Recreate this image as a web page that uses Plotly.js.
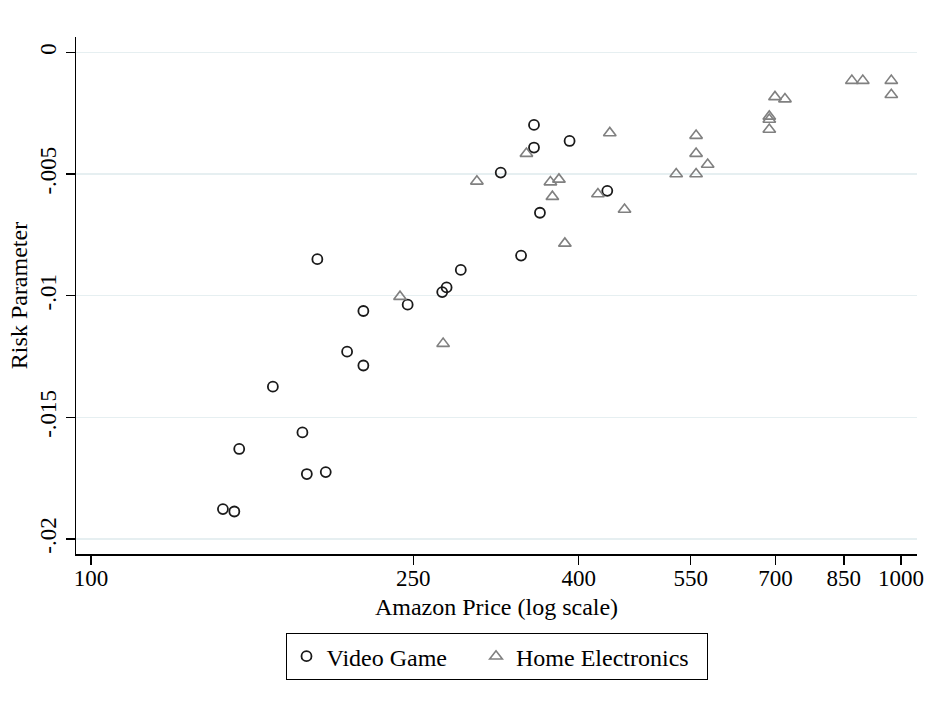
<!DOCTYPE html>
<html>
<head>
<meta charset="utf-8">
<script src="https://cdn.plot.ly/plotly-3.0.1.min.js"></script>
<style>
  html, body { margin: 0; padding: 0; background: #fff; }
  #chart { width: 934px; height: 702px; }
</style>
</head>
<body>
<div id="chart"></div>
<script>
// Video game titles: Amazon price and estimated risk parameter
const gamePrice = [145.5, 150.3, 152.4, 167.7, 182.4, 184.7, 194.9, 190.3, 207.1, 216.9, 216.9,
                   246.0, 271.4, 274.8, 286.1, 320.5, 339.6, 352.3, 352.3, 358.3, 389.8, 433.9];
const gameRisk  = [-0.01877, -0.01887, -0.01630, -0.01374, -0.01562, -0.01733, -0.01725, -0.00850,
                   -0.01230, -0.01063, -0.01287, -0.01037, -0.00985, -0.00966, -0.00894, -0.00494,
                   -0.00835, -0.00298, -0.00391, -0.00659, -0.00364, -0.00569];

// Home electronics: Amazon price and estimated risk parameter
const elecPrice = [240.7, 272.1, 299.5, 344.8, 369.1, 378.2, 371.2, 384.6, 422.5, 437.0, 455.7,
                   527.8, 558.5, 558.5, 558.5, 577.2, 687.7, 687.7, 687.7, 698.9, 719.0,
                   869.6, 897.1, 972.8, 972.8];
const elecRisk  = [-0.01004, -0.01197, -0.00530, -0.00416, -0.00533, -0.00522, -0.00593, -0.00785,
                   -0.00582, -0.00331, -0.00646, -0.00500, -0.00342, -0.00416, -0.00500, -0.00461,
                   -0.00263, -0.00276, -0.00317, -0.00183, -0.00192, -0.00116, -0.00116, -0.00116,
                   -0.00174];

// Axis ticks
const xTickVals = [100, 250, 400, 550, 700, 850, 1000];
const xTickText = ['100', '250', '400', '550', '700', '850', '1000'];
const yTickVals = [0, -0.005, -0.01, -0.015, -0.02];
const yTickText = ['0', '-.005', '-.01', '-.015', '-.02'];

const serif = '"Liberation Serif", "Times New Roman", Times, serif';
const NBSP = '\u00a0';

const traces = [
  {
    type: 'scatter', mode: 'markers',
    // trailing non-breaking spaces widen the legend entry
    name: 'Video Game' + NBSP.repeat(4),
    x: gamePrice, y: gameRisk,
    marker: { symbol: 'circle-open', size: 10, color: '#1a1a1a', line: { width: 1.8, color: '#1a1a1a' } },
    hoverinfo: 'x+y'
  },
  {
    type: 'scatter', mode: 'markers',
    name: 'Home Electronics' + NBSP.repeat(2),
    x: elecPrice, y: elecRisk,
    marker: { symbol: 'triangle-up-open', size: 11, color: '#808080', line: { width: 1.6, color: '#808080' } },
    hoverinfo: 'x+y'
  }
];

const layout = {
  width: 934, height: 702,
  paper_bgcolor: '#ffffff', plot_bgcolor: '#ffffff',
  font: { family: serif, size: 23, color: '#000' },
  margin: { l: 76, r: 17, t: 37, b: 148, pad: 0 },
  showlegend: true,
  xaxis: {
    type: 'log',
    range: [Math.log10(100) - 15 / 810, Math.log10(1000) + 16 / 810],
    tickvals: xTickVals, ticktext: xTickText,
    ticks: 'outside', ticklen: 9, tickwidth: 1.5, tickcolor: '#000',
    ticklabelstandoff: -6,
    showline: true, linecolor: '#000', linewidth: 1.5,
    showgrid: false, zeroline: false,
    tickfont: { family: serif, size: 23, color: '#000' },
    title: { text: 'Amazon Price (log scale)', font: { family: serif, size: 24, color: '#000' }, standoff: 8 }
  },
  yaxis: {
    range: [-0.020617, 0.000633],
    tickvals: yTickVals, ticktext: yTickText,
    tickangle: -90,
    ticks: 'outside', ticklen: 9, tickwidth: 1.5, tickcolor: '#000',
    showline: true, linecolor: '#000', linewidth: 1.5,
    showgrid: true, gridcolor: '#e6eff1', gridwidth: 1.5,
    zeroline: false,
    tickfont: { family: serif, size: 23, color: '#000' },
    title: { text: 'Risk Parameter', font: { family: serif, size: 24, color: '#000' }, standoff: 2 }
  },
  legend: {
    orientation: 'h',
    x: 0.5, xanchor: 'center',
    y: -0.153, yanchor: 'top',
    bordercolor: '#000', borderwidth: 1,
    font: { family: serif, size: 24, color: '#000' },
    bgcolor: '#fff'
  }
};

Plotly.newPlot('chart', traces, layout, { displayModeBar: false, staticPlot: true });
</script>
</body>
</html>
